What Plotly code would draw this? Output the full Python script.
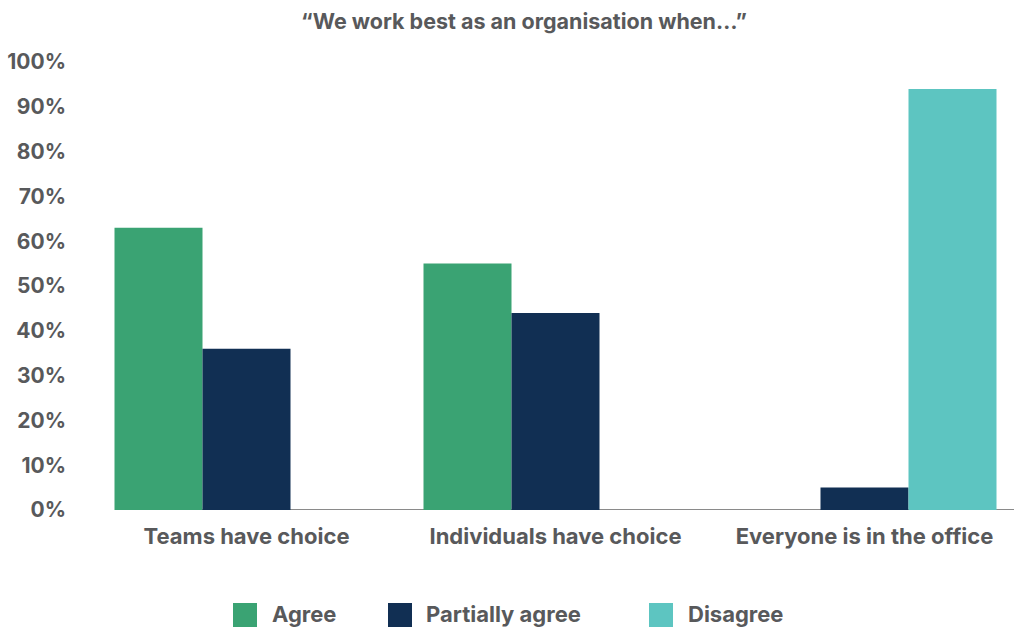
import plotly.graph_objects as go

categories = ["Teams have choice", "Individuals have choice", "Everyone is in the office"]
series_names = ["Agree", "Partially agree", "Disagree"]
agree = [63, 55, 0]
partially_agree = [36, 44, 5]
disagree = [0, 0, 94]
series_values = [agree, partially_agree, disagree]
colors = ["#3AA373", "#112F53", "#5DC5C1"]
y_tickvals = [0, 10, 20, 30, 40, 50, 60, 70, 80, 90, 100]
y_ticktext = ["0%", "10%", "20%", "30%", "40%", "50%", "60%", "70%", "80%", "90%", "100%"]
title_text = "“We work best as an organisation when…”"

W, H = 1014, 627
L, R, T, B = 92, 0, 62, 117
PW, PH = W - L - R, H - T - B
TXT = "#58595B"
FONT = "Inter"


def px_x(px):
    return (px - L) / PW


def px_y(py):
    return (H - B - py) / PH


fig = go.Figure()
for name, vals, col in zip(series_names, series_values, colors):
    fig.add_trace(go.Bar(x=categories, y=vals, name=name, marker_color=col,
                         marker_line_width=0, showlegend=False))

fig.update_layout(
    width=W, height=H,
    margin=dict(l=L, r=R, t=T, b=B, pad=0),
    paper_bgcolor="white", plot_bgcolor="white",
    barmode="group", bargap=0.1456, bargroupgap=0,
    title=dict(text=title_text, x=524 / W, xref="container", xanchor="center",
               y=1 - 21 / H, yref="container", yanchor="middle",
               font=dict(family=FONT, size=21.5, color=TXT, weight=700)),
    xaxis=dict(range=[-0.5, -0.5 + PW / 309], showline=False, showgrid=False,
               zeroline=False, ticks="", ticklabelstandoff=11,
               tickfont=dict(family=FONT, size=22, color=TXT, weight=700)),
    yaxis=dict(range=[0, 100], tickvals=y_tickvals, ticktext=y_ticktext,
               showline=False, showgrid=False, zeroline=False, ticks="",
               ticklabelstandoff=25,
               tickfont=dict(family=FONT, size=21, color=TXT, weight=700)),
)

fig.add_shape(type="line", xref="paper", yref="y", x0=px_x(130), x1=1, y0=0, y1=0,
              line=dict(color="#8A8A8A", width=2), layer="below")

legend_sw = [233, 388, 649]
legend_tx = [270, 424, 686]
for name, col, sx, tx in zip(series_names, colors, legend_sw, legend_tx):
    fig.add_shape(type="rect", xref="paper", yref="paper",
                  x0=px_x(sx), x1=px_x(sx + 24), y0=px_y(627), y1=px_y(603),
                  fillcolor=col, line_width=0)
    fig.add_annotation(text=name, xref="paper", yref="paper", x=px_x(tx), y=px_y(614),
                       xanchor="left", yanchor="middle", showarrow=False,
                       font=dict(family=FONT, size=22, color=TXT, weight=700))

fig.write_html("out.html")
